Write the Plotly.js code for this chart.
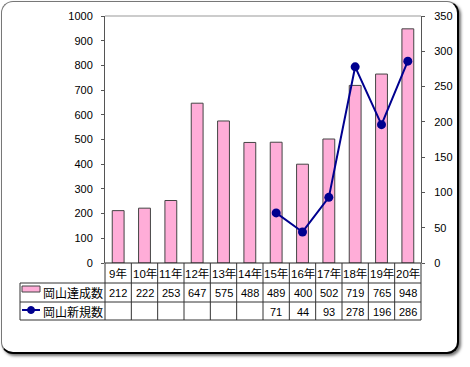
<!DOCTYPE html>
<html><head><meta charset="utf-8">
<script src="https://cdn.plot.ly/plotly-3.0.1.min.js"></script>
<style>
body{margin:0;background:#fff;}
#frame{position:absolute;left:1px;top:1px;width:455px;height:350px;border:1px solid #777;border-right:2px solid #000;border-bottom:2px solid #000;border-radius:12px;box-shadow:2px 2px 3px rgba(0,0,0,0.55);background:#fff;}
#chart{position:absolute;left:0;top:0;width:470px;height:367px;}
</style>
</head><body>
<div id="frame"></div>
<div id="chart"></div>
<script>
const years = ['9年','10年','11年','12年','13年','14年','15年','16年','17年','18年','19年','20年'];
const achieved = [212,222,253,647,575,488,489,400,502,719,765,948];
const newCount = [null,null,null,null,null,null,71,44,93,278,196,286];
const seriesNames = ['岡山達成数','岡山新規数'];

const W = 470, H = 367;
const L = 105, R = 421, T = 16, B = 263;
const px = x => (x - L) / (R - L);
const py = y => (B - y) / (B - T);
const FONT = 'Liberation Sans, Arial, Noto Sans CJK JP, sans-serif';
const lineCol = '#333';

const traces = [
  {type:'bar', x:years, y:achieved, name:seriesNames[0], width:0.45,
   marker:{color:'#FFADD8', line:{color:'#444', width:1}}, hoverinfo:'none'},
  {type:'scatter', mode:'lines+markers', x:years, y:newCount, name:seriesNames[1], yaxis:'y2',
   connectgaps:false, line:{color:'#00008F', width:2}, marker:{color:'#00008F', size:9}, hoverinfo:'none'}
];

const shapes = [];
const hl = (y, x0, x1, c) => shapes.push({type:'line', xref:'paper', yref:'paper', x0:x0, x1:x1, y0:y, y1:y, line:{color:c||lineCol, width:1}});
hl(1, 0, 1, '#999');
hl(py(263), 0, 1, '#222');
hl(py(283), px(20), 1);
hl(py(302), px(20), 1);
hl(py(320), px(20), 1);
for (let i = 0; i <= years.length; i++) {
  shapes.push({type:'line', xref:'paper', yref:'paper', x0:i/years.length, x1:i/years.length, y0:py(263), y1:py(320), line:{color:lineCol, width:1}});
}
shapes.push({type:'line', xref:'paper', yref:'paper', x0:px(20), x1:px(20), y0:py(283), y1:py(320), line:{color:lineCol, width:1}});
shapes.push({type:'rect', xref:'paper', yref:'paper', x0:px(22), x1:px(40), y0:py(286), y1:py(292), fillcolor:'#FFADD8', line:{color:'#444', width:1}});
shapes.push({type:'line', xref:'paper', yref:'paper', x0:px(22), x1:px(40), y0:py(310), y1:py(310), line:{color:'#00008F', width:2}});
shapes.push({type:'circle', xref:'paper', yref:'paper', x0:px(27.5), x1:px(34.5), y0:py(306.5), y1:py(313.5), fillcolor:'#00008F', line:{color:'#00008F', width:1}});

const annotations = [];
years.forEach((yr, i) => {
  annotations.push({xref:'x', yref:'paper', x:yr, y:py(273.5), text:yr, showarrow:false, xanchor:'center', yanchor:'middle', font:{size:11.5, color:'#000', family:FONT}});
  annotations.push({xref:'x', yref:'paper', x:yr, y:py(292.5), text:String(achieved[i]), showarrow:false, xanchor:'center', yanchor:'middle', font:{size:11, color:'#000', family:FONT}});
  if (newCount[i] !== null) annotations.push({xref:'x', yref:'paper', x:yr, y:py(311.5), text:String(newCount[i]), showarrow:false, xanchor:'center', yanchor:'middle', font:{size:11, color:'#000', family:FONT}});
});
annotations.push({xref:'paper', yref:'paper', x:px(41), y:py(292.5), text:seriesNames[0], showarrow:false, xanchor:'left', yanchor:'middle', font:{size:12, color:'#000', family:'Noto Sans CJK JP'}});
annotations.push({xref:'paper', yref:'paper', x:px(41), y:py(311.5), text:seriesNames[1], showarrow:false, xanchor:'left', yanchor:'middle', font:{size:12, color:'#000', family:'Noto Sans CJK JP'}});

const layout = {
  width:W, height:H,
  margin:{l:L, r:W-R, t:T, b:H-B, pad:0},
  paper_bgcolor:'rgba(0,0,0,0)', plot_bgcolor:'rgba(0,0,0,0)',
  showlegend:false,
  font:{family:FONT, size:11, color:'#000'},
  xaxis:{type:'category', range:[-0.5, 11.5], showticklabels:false, ticks:'', showline:false, showgrid:false, zeroline:false, fixedrange:true},
  yaxis:{range:[0,1000], dtick:100, ticks:'outside', ticklen:3, tickcolor:'#555', ticklabelstandoff:6, showline:true, linecolor:'#555', linewidth:1, showgrid:false, zeroline:false, tickfont:{size:11, family:FONT}, fixedrange:true},
  yaxis2:{range:[0,350], dtick:50, overlaying:'y', side:'right', ticks:'outside', ticklen:3, tickcolor:'#555', ticklabelstandoff:7, showline:true, linecolor:'#555', linewidth:1, showgrid:false, zeroline:false, tickfont:{size:11, family:FONT}, fixedrange:true},
  bargap:0.55,
  shapes:shapes,
  annotations:annotations
};
Plotly.newPlot('chart', traces, layout, {displayModeBar:false, staticPlot:true});
</script>
</body></html>
